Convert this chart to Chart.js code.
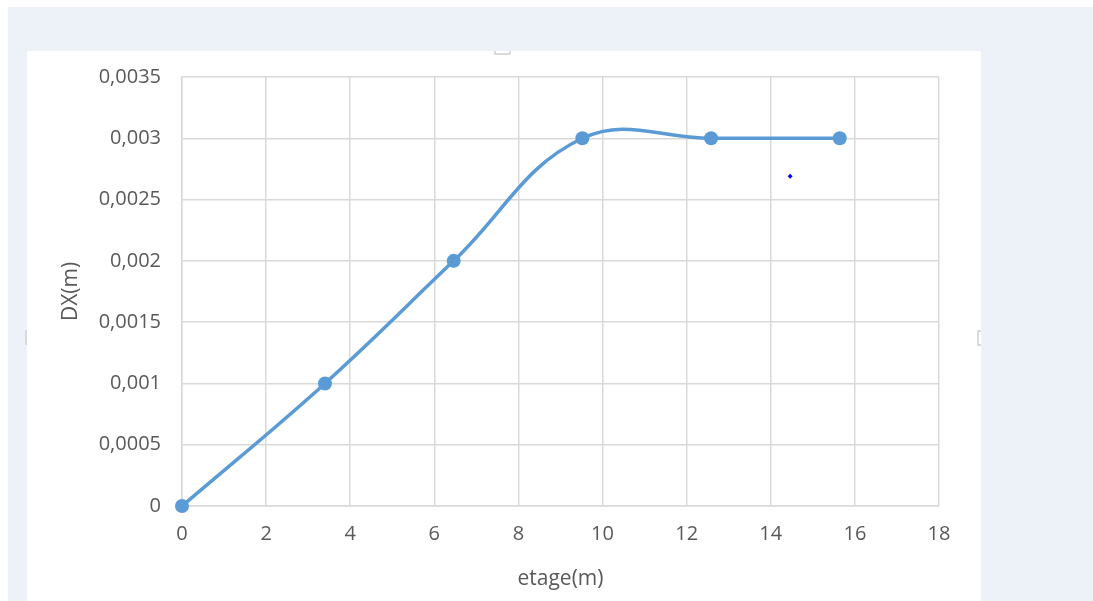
<!DOCTYPE html>
<html>
<head>
<meta charset="utf-8">
<script src="https://cdn.jsdelivr.net/npm/chart.js@4/dist/chart.umd.min.js"></script>
<style>
  html, body { margin: 0; padding: 0; background: #ffffff; }
  #wrap { width: 1093px; height: 601px; position: relative; }
  canvas { display: block; }
</style>
</head>
<body>
<div id="wrap"><canvas id="c" width="1093" height="601"></canvas></div>
<script>
// Storey heights (m) and lateral displacement DX (m)
const etage = [0, 3.4, 6.46, 9.52, 12.58, 15.64];
const dx = [0, 0.001, 0.002, 0.003, 0.003, 0.003];
// stray marker on the sheet
const strayX = [14.46];
const strayY = [0.00269];
// axis tick labels (French decimal comma)
const yTickLabels = ['0', '0,0005', '0,001', '0,0015', '0,002', '0,0025', '0,003', '0,0035'];
const xTickLabels = ['0', '2', '4', '6', '8', '10', '12', '14', '16', '18'];

const FONT = '"Open Sans", "Liberation Sans", sans-serif';
const TEXT = '#595959';
const GRID = '#d9d9d9';

// page frame: workbook background, white chart sheet and selection handles
const framePlugin = {
  id: 'frame',
  beforeDraw(chart) {
    const ctx = chart.ctx;
    ctx.save();
    ctx.fillStyle = '#ffffff';
    ctx.fillRect(0, 0, 1093, 601);
    ctx.fillStyle = '#edf2f9';
    ctx.fillRect(8, 7, 1085, 594);
    ctx.fillStyle = '#ffffff';
    ctx.fillRect(27, 51, 954, 550);
    ctx.strokeStyle = '#d0d0d0';
    ctx.lineWidth = 1.5;
    // top handle
    ctx.beginPath();
    ctx.moveTo(495, 51); ctx.lineTo(495, 54); ctx.lineTo(510, 54); ctx.lineTo(510, 51);
    ctx.stroke();
    // left handle
    ctx.beginPath();
    ctx.moveTo(26, 330); ctx.lineTo(26, 345);
    ctx.stroke();
    // right handle
    ctx.beginPath();
    ctx.moveTo(981, 331); ctx.lineTo(978, 331); ctx.lineTo(978, 345); ctx.lineTo(981, 345);
    ctx.stroke();
    ctx.restore();
  }
};

new Chart(document.getElementById('c'), {
  type: 'scatter',
  data: {
    datasets: [
      {
        data: etage.map((x, i) => ({ x: x, y: dx[i] })),
        showLine: true,
        clip: false,
        borderColor: '#5b9bd5',
        backgroundColor: '#5b9bd5',
        borderWidth: 3.5,
        tension: 0.4,
        pointRadius: 7,
        pointHoverRadius: 7,
        pointBorderWidth: 0
      },
      {
        data: strayX.map((x, i) => ({ x: x, y: strayY[i] })),
        showLine: false,
        backgroundColor: '#0000ff',
        borderColor: '#0000ff',
        pointStyle: 'rectRot',
        pointRadius: 2.5,
        pointBorderWidth: 0
      }
    ]
  },
  options: {
    responsive: false,
    animation: false,
    events: [],
    layout: { padding: { left: 27, top: 77, right: 154, bottom: 0 } },
    plugins: { legend: { display: false }, tooltip: { enabled: false } },
    scales: {
      x: {
        type: 'linear',
        min: 0, max: 18,
        afterFit(scale) { scale.height = 95; },
        afterBuildTicks(scale) {
          scale.ticks = xTickLabels.map(v => ({ value: Number(v) }));
        },
        ticks: {
          padding: 16,
          color: TEXT,
          font: { family: FONT, size: 20 },
          maxRotation: 0,
          callback: (v, i) => xTickLabels[i]
        },
        grid: { color: GRID, lineWidth: 1.5, drawTicks: false },
        border: { color: GRID, width: 1.5 },
        title: {
          display: true,
          text: 'etage(m)',
          color: TEXT,
          font: { family: FONT, size: 21 },
          padding: { top: 9, bottom: 9 }
        }
      },
      y: {
        type: 'linear',
        min: 0, max: 0.0035,
        afterFit(scale) { scale.width = 155; },
        afterBuildTicks(scale) {
          scale.ticks = yTickLabels.map(s => ({ value: Number(s.replace(',', '.')) }));
        },
        ticks: {
          padding: 21,
          color: TEXT,
          font: { family: FONT, size: 20 },
          callback: (v, i) => yTickLabels[i]
        },
        grid: { color: GRID, lineWidth: 1.5, drawTicks: false },
        border: { color: GRID, width: 1.5 },
        title: {
          display: true,
          text: 'DX(m)',
          color: TEXT,
          font: { family: FONT, size: 21 },
          padding: { top: 31, bottom: 31 }
        }
      }
    }
  },
  plugins: [framePlugin]
});
</script>
</body>
</html>
